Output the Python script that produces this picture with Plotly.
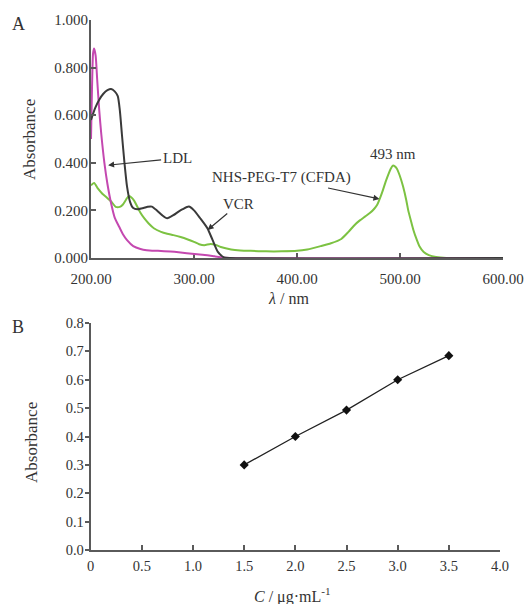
import plotly.graph_objects as go

# ---------------- Panel A: UV-Vis spectra ----------------
ldl_x = [200, 201, 202, 203, 204.5, 206, 208, 210, 213, 216,
         219.5, 223, 227.5, 231, 235, 241, 248, 254, 265, 277,
         285, 293, 303, 313, 320, 326, 335, 600]
ldl_y = [0.50, 0.72, 0.86, 0.88, 0.85, 0.75, 0.62, 0.52, 0.40, 0.31,
         0.23, 0.17, 0.13, 0.10, 0.075, 0.05, 0.038, 0.033, 0.03, 0.027,
         0.024, 0.02, 0.016, 0.012, 0.007, 0.003, 0.0, 0.0]

vcr_x = [200, 204, 208, 212, 216, 219.5, 223, 226, 228, 230,
         232.5, 235, 238, 241, 245, 251, 255, 259, 264, 269,
         274, 280, 285, 289, 295, 300, 306, 313, 318, 323,
         329, 335, 600]
vcr_y = [0.58, 0.63, 0.665, 0.69, 0.705, 0.71, 0.70, 0.68, 0.62, 0.52,
         0.40, 0.30, 0.235, 0.21, 0.205, 0.21, 0.215, 0.216, 0.20, 0.18,
         0.167, 0.18, 0.195, 0.205, 0.216, 0.20, 0.167, 0.125, 0.076, 0.027,
         0.003, 0.0, 0.0]

cfda_x = [200, 203, 207, 211, 215, 220, 224, 228, 231, 234,
          236.5, 239, 242, 245, 248, 252, 256, 261, 268, 274,
          280, 287, 294, 300, 305, 310, 316, 321, 326, 336,
          345, 355, 370, 385, 400, 410, 423, 433, 443, 450,
          456, 461, 466, 471, 475, 478, 480, 483, 486, 489,
          491, 493, 495, 497, 499, 501, 503, 506, 508, 511,
          513, 516, 519, 523, 528, 535, 545, 600]
cfda_y = [0.305, 0.315, 0.29, 0.27, 0.255, 0.235, 0.215, 0.215, 0.225, 0.245,
          0.26, 0.255, 0.24, 0.215, 0.19, 0.165, 0.145, 0.125, 0.11, 0.102,
          0.096, 0.088, 0.078, 0.068, 0.058, 0.054, 0.059, 0.055, 0.046, 0.036,
          0.032, 0.03, 0.028, 0.028, 0.03, 0.036, 0.05, 0.062, 0.08, 0.11,
          0.139, 0.158, 0.174, 0.19, 0.207, 0.225, 0.245, 0.28, 0.32, 0.355,
          0.375, 0.388, 0.385, 0.375, 0.355, 0.33, 0.30, 0.245, 0.20, 0.15,
          0.118, 0.08, 0.048, 0.025, 0.012, 0.004, 0.0, 0.0]

a_xticks = [200, 300, 400, 500, 600]
a_yticks = [0.0, 0.2, 0.4, 0.6, 0.8, 1.0]

# ---------------- Panel B: calibration curve ----------------
conc = [1.5, 2.0, 2.5, 3.0, 3.5]
absb = [0.30, 0.40, 0.493, 0.60, 0.685]
b_xticks = [0, 0.5, 1.0, 1.5, 2.0, 2.5, 3.0, 3.5, 4.0]
b_xtext = ["0", "0.5", "1.0", "1.5", "2.0", "2.5", "3.0", "3.5", "4.0"]
b_yticks = [0.0, 0.1, 0.2, 0.3, 0.4, 0.5, 0.6, 0.7, 0.8]

W, H = 530, 604
def px(x):
    return x / W
def py(y):
    return 1 - y / H

SERIF = "Liberation Serif, Times New Roman, serif"
TXT = "#333333"
AX = "#5a5a5a"

fig = go.Figure()
fig.add_trace(go.Scatter(x=cfda_x, y=cfda_y, mode="lines", line=dict(color="#7cc242", width=2, shape="spline", smoothing=0.6),
                         xaxis="x", yaxis="y", showlegend=False))
fig.add_trace(go.Scatter(x=ldl_x, y=ldl_y, mode="lines", line=dict(color="#c448b0", width=2, shape="spline", smoothing=0.6),
                         xaxis="x", yaxis="y", showlegend=False))
fig.add_trace(go.Scatter(x=vcr_x, y=vcr_y, mode="lines", line=dict(color="#3a3a3a", width=2, shape="spline", smoothing=0.6),
                         xaxis="x", yaxis="y", showlegend=False))
fig.add_trace(go.Scatter(x=conc, y=absb, mode="lines+markers",
                         line=dict(color="#222222", width=1.3),
                         marker=dict(symbol="diamond", size=7, color="#111111"),
                         xaxis="x2", yaxis="y2", showlegend=False))

axis_common = dict(showline=True, linecolor=AX, linewidth=2, showgrid=False, zeroline=False,
                   ticks="inside", tickcolor=AX, tickwidth=1.5, ticklen=5,
                   tickfont=dict(family=SERIF, size=15, color=TXT), automargin=False)

fig.update_layout(
    width=W, height=H,
    margin=dict(l=0, r=0, t=0, b=0),
    paper_bgcolor="white", plot_bgcolor="white",
    xaxis=dict(axis_common, domain=[px(91), px(503)], range=[200, 600],
               tickvals=a_xticks, tickformat=".2f", anchor="y", layer="below traces",
               ticklabelstandoff=6),
    yaxis=dict(axis_common, domain=[py(258), py(20)], range=[0, 1.0],
               tickvals=a_yticks, tickformat=".3f", anchor="x", ticklabelstandoff=-2),
    xaxis2=dict(axis_common, domain=[px(90.7), px(500)], range=[0, 4.0],
                tickvals=b_xticks, ticktext=b_xtext, anchor="y2",
                tickfont=dict(family=SERIF, size=14.5, color=TXT), ticklabelstandoff=2),
    yaxis2=dict(axis_common, domain=[py(550), py(323)], range=[0, 0.8],
                tickvals=b_yticks, tickformat=".1f", anchor="x2", ticks="outside", ticklen=4,
                tickfont=dict(family=SERIF, size=14.5, color=TXT), ticklabelstandoff=-2),
)

def label(text, x, y, size=17, angle=0):
    fig.add_annotation(text=text, x=px(x), y=py(y), xref="paper", yref="paper",
                       showarrow=False, textangle=angle,
                       font=dict(family=SERIF, size=size, color=TXT),
                       xanchor="center", yanchor="middle")

label("A", 18, 24, size=18)
label("B", 18, 327, size=18)
label("Absorbance", 30, 140, size=17, angle=-90)
label("Absorbance", 31, 443, size=17, angle=-90)
label("<i>λ</i> / nm", 288, 299, size=16)
label("<i>C</i> / μg·mL<sup>-1</sup>", 292, 595, size=16)

def arrow(text, tipx, tipy, ax, ay):
    fig.add_annotation(text=text, x=tipx, y=tipy, xref="x", yref="y",
                       ax=ax, ay=ay, showarrow=True, arrowhead=2, arrowsize=1,
                       arrowwidth=1.2, arrowcolor="#333333",
                       font=dict(family=SERIF, size=15, color=TXT))

arrow("LDL", 216.6, 0.39, 69, -7)
arrow("VCR", 313.2, 0.118, 31, -26)
arrow("NHS-PEG-T7 (CFDA)", 480, 0.248, -98, -21)
fig.add_annotation(text="493 nm", x=493, y=0.435, xref="x", yref="y", showarrow=False,
                   font=dict(family=SERIF, size=15, color=TXT))

fig.write_html("out.html", config={"displayModeBar": False},
               post_script="document.body.style.margin='0';document.body.style.overflow='hidden';")
